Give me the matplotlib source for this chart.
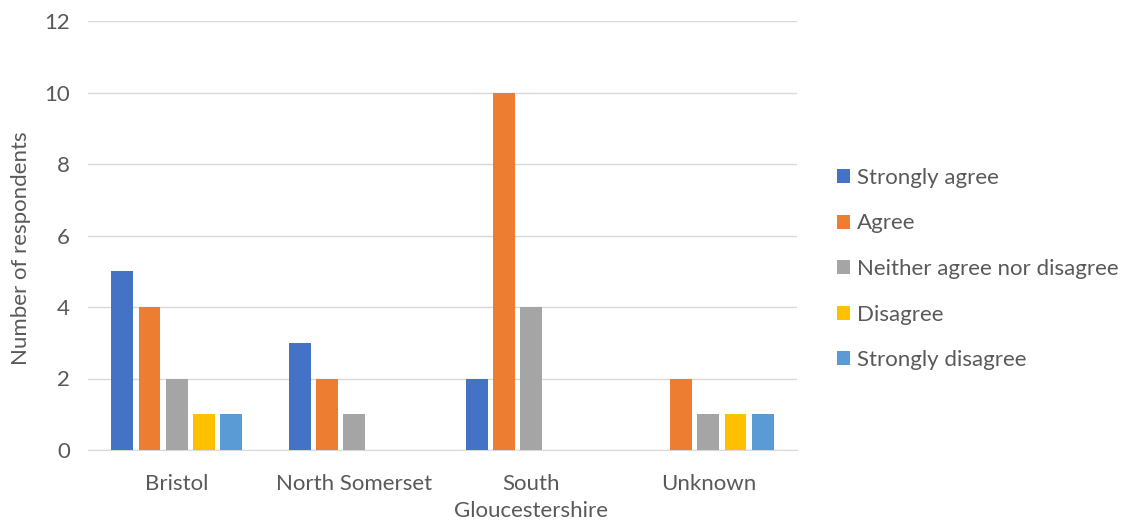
import matplotlib
matplotlib.use("Agg")
import matplotlib.pyplot as plt
import numpy as np
from matplotlib.patches import Patch

categories = ["Bristol", "North Somerset", "South\nGloucestershire", "Unknown"]
series_names = ["Strongly agree", "Agree", "Neither agree nor disagree", "Disagree", "Strongly disagree"]
strongly_agree = [5, 3, 2, 0]
agree = [4, 2, 10, 2]
neither = [2, 1, 4, 1]
disagree = [1, 0, 0, 1]
strongly_disagree = [1, 0, 0, 1]
colors = ["#4472C4", "#ED7D31", "#A5A5A5", "#FFC000", "#5B9BD5"]

series = [strongly_agree, agree, neither, disagree, strongly_disagree]

plt.rcParams['font.family'] = ['Lato', 'DejaVu Sans']
text_color = "#595959"
fs = 16

fig = plt.figure(figsize=(11.27, 5.20), dpi=100)
ax = fig.add_axes([88/1127, 1-450/520, (797-88)/1127, (450-21)/520])

x = np.arange(len(categories))
width = 0.124
pitch = 0.153
for i, (vals, c) in enumerate(zip(series, colors)):
    ax.bar(x + (i-2)*pitch, vals, width=width, color=c, zorder=3)

ax.set_xlim(-0.5, 3.5)
ax.set_ylim(0, 12)
ax.set_yticks(range(0, 13, 2))
ax.yaxis.grid(True, color="#D9D9D9", linewidth=1, zorder=0)
for s in ["top", "right", "left"]:
    ax.spines[s].set_visible(False)
ax.spines["bottom"].set_color("#D9D9D9")
ax.set_xticks(x)
ax.set_xticklabels(categories, fontsize=fs, color=text_color, linespacing=1.45)
ax.tick_params(axis='x', length=0, pad=17)
ax.tick_params(axis='y', length=0, pad=13, labelsize=fs, labelcolor=text_color)
ax.set_ylabel("Number of respondents", fontsize=fs, color=text_color)
ax.yaxis.set_label_coords(-0.081, 0.47)

handles = [Patch(facecolor=c, label=n) for c, n in zip(colors, series_names)]
fig.legend(handles=handles, loc='center left', bbox_to_anchor=(817/1127, 1-269/520),
           frameon=False, fontsize=fs, labelcolor=text_color, handlelength=0.6,
           handleheight=0.6, handletextpad=0.3, labelspacing=1.15)

fig.savefig("out.png", dpi=100)
